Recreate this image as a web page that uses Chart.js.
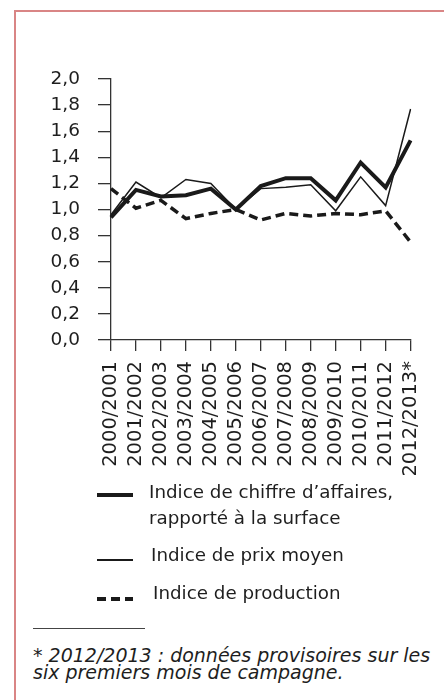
<!DOCTYPE html>
<html>
<head>
<meta charset="utf-8">
<script src="https://cdn.jsdelivr.net/npm/chart.js@4.4.0/dist/chart.umd.min.js"></script>
<style>
  html, body { margin: 0; padding: 0; background: #fff; }
  body { width: 444px; height: 700px; position: relative; overflow: hidden; font-family: "DejaVu Sans", sans-serif; color: #1e1e1e; }
  .frame { position: absolute; left: 14px; top: 10px; width: 460px; height: 720px; border-top: 2px solid #d98585; border-left: 2px solid #d98585; }
  #chart { position: absolute; left: 0; top: 40px; }
  .swatch { position: absolute; left: 97px; width: 36px; }
  .lbl { position: absolute; font-size: 18.3px; line-height: 26px; white-space: nowrap; }
  .rule { position: absolute; left: 33px; top: 628px; width: 112px; height: 1px; background: #444; }
  .note { position: absolute; left: 33px; top: 647px; font-size: 19px; line-height: 16.5px; font-style: italic; white-space: nowrap; }
</style>
</head>
<body>
<div class="frame"></div>
<canvas id="chart" width="444" height="440"></canvas>

<div class="swatch" style="top:493px;height:4px;background:#1a1a1a"></div>
<div class="lbl" style="left:149px;top:479px">Indice de chiffre d’affaires,<br>rapporté à la surface</div>
<div class="swatch" style="top:559px;height:1.5px;background:#1a1a1a"></div>
<div class="lbl" style="left:151px;top:542px">Indice de prix moyen</div>
<div class="swatch" style="top:597px;height:3.5px;background:repeating-linear-gradient(to right,#1a1a1a 0 9px,transparent 9px 14px)"></div>
<div class="lbl" style="left:153px;top:580px">Indice de production</div>

<div class="rule"></div>
<div class="note">* 2012/2013 : données provisoires sur les<br>six premiers mois de campagne.</div>

<script>
// campagnes
const campagnes = ['2000/2001', '2001/2002', '2002/2003', '2003/2004', '2004/2005', '2005/2006',
  '2006/2007', '2007/2008', '2008/2009', '2009/2010', '2010/2011', '2011/2012', '2012/2013*'];

// indices (base 2005/2006 = 1)
const indiceChiffreAffaires = [0.94, 1.15, 1.10, 1.11, 1.16, 1.00, 1.18, 1.24, 1.24, 1.07, 1.36, 1.17, 1.53];
const indicePrixMoyen = [0.96, 1.21, 1.09, 1.23, 1.20, 1.00, 1.16, 1.17, 1.19, 0.99, 1.25, 1.03, 1.77];
const indiceProduction = [1.16, 1.01, 1.07, 0.93, 0.97, 1.00, 0.92, 0.97, 0.95, 0.97, 0.96, 0.99, 0.75];

const yTicks = [0, 0.2, 0.4, 0.6, 0.8, 1.0, 1.2, 1.4, 1.6, 1.8, 2.0];

const axisColor = '#333';

new Chart(document.getElementById('chart'), {
  type: 'line',
  data: {
    labels: campagnes,
    datasets: [
      {
        label: 'Indice de chiffre d’affaires, rapporté à la surface',
        data: indiceChiffreAffaires,
        borderColor: '#1a1a1a',
        borderWidth: 4,
        pointRadius: 0,
        tension: 0
      },
      {
        label: 'Indice de prix moyen',
        data: indicePrixMoyen,
        borderColor: '#1a1a1a',
        borderWidth: 1.5,
        pointRadius: 0,
        tension: 0
      },
      {
        label: 'Indice de production',
        data: indiceProduction,
        borderColor: '#1a1a1a',
        borderWidth: 3.5,
        borderDash: [9, 5],
        pointRadius: 0,
        tension: 0
      }
    ]
  },
  options: {
    responsive: false,
    animation: false,
    devicePixelRatio: 1,
    layout: { padding: { left: 0, right: 30, top: 39, bottom: 0 } },
    plugins: {
      legend: { display: false },
      tooltip: { enabled: false }
    },
    scales: {
      x: {
        offset: false,
        border: { display: true, color: axisColor, width: 1.3 },
        grid: { drawOnChartArea: false, drawTicks: true, tickLength: 11, color: axisColor, lineWidth: 1.3 },
        ticks: {
          autoSkip: false,
          maxRotation: 90,
          minRotation: 90,
          padding: 10,
          color: '#1e1e1e',
          font: { family: 'DejaVu Sans', size: 19.5 }
        },
        afterFit: (scale) => { scale.height = 140; }
      },
      y: {
        min: 0,
        max: 2,
        afterBuildTicks: (scale) => { scale.ticks = yTicks.map(v => ({ value: v })); },
        border: { display: true, color: axisColor, width: 1.3 },
        grid: { drawOnChartArea: false, drawTicks: true, tickLength: 13, color: axisColor, lineWidth: 1.3 },
        ticks: {
          padding: 18,
          color: '#1e1e1e',
          font: { family: 'DejaVu Sans', size: 18.5 },
          callback: (v) => Number(v).toFixed(1).replace('.', ',')
        },
        afterFit: (scale) => { scale.width = 111; }
      }
    }
  }
});
</script>
</body>
</html>
